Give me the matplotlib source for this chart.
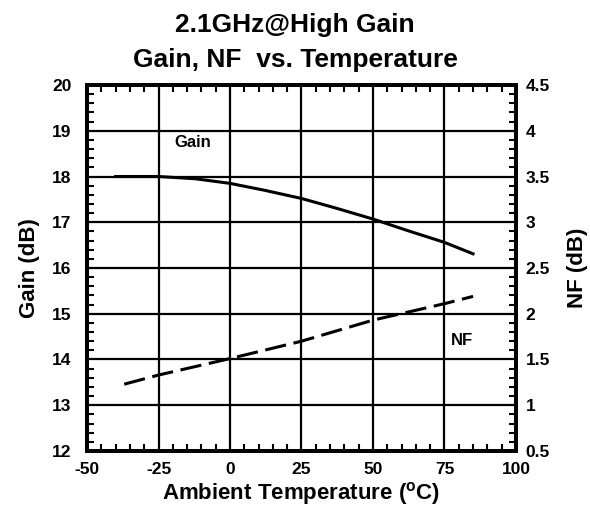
import matplotlib
matplotlib.use("Agg")
import matplotlib.pyplot as plt
from matplotlib.ticker import MultipleLocator

plt.rcParams['font.family'] = ['Liberation Sans', 'DejaVu Sans']
plt.rcParams['font.weight'] = 'bold'
plt.rcParams['axes.unicode_minus'] = False
plt.rcParams['mathtext.fontset'] = 'custom'
plt.rcParams['mathtext.bf'] = 'Liberation Sans:bold'
plt.rcParams['mathtext.rm'] = 'Liberation Sans:bold'

temp_gain = [-40, -25, -12, 0, 12, 25, 37, 50, 62, 75, 85]
gain = [18.0, 18.0, 17.95, 17.85, 17.7, 17.52, 17.31, 17.07, 16.82, 16.56, 16.31]
temp_nf = [-37, -25, 0, 25, 50, 75, 85]
nf = [1.23, 1.33, 1.51, 1.70, 1.93, 2.11, 2.19]

xticks = [-50, -25, 0, 25, 50, 75, 100]
gain_ticks = [12, 13, 14, 15, 16, 17, 18, 19, 20]
nf_ticks = [0.5, 1, 1.5, 2, 2.5, 3, 3.5, 4, 4.5]
nf_ticklabels = ['0.5', '1', '1.5', '2', '2.5', '3', '3.5', '4', '4.5']

fig = plt.figure(figsize=(5.9, 5.14), dpi=100)
ax = fig.add_axes([0.1475, 0.1226, 0.727, 0.712])
ax2 = ax.twinx()

ax.set_xlim(-50, 100)
ax.set_ylim(12, 20)
ax2.set_ylim(0.5, 4.5)
ax.set_xticks(xticks)
ax.set_yticks(gain_ticks)
ax2.set_yticks(nf_ticks)
ax2.set_yticklabels(nf_ticklabels)
ax.xaxis.set_minor_locator(MultipleLocator(5))
ax.yaxis.set_minor_locator(MultipleLocator(0.2))
ax2.yaxis.set_minor_locator(MultipleLocator(0.1))

ax.grid(True, which='major', color='black', linewidth=1.6)
ax.tick_params(axis='x', which='major', length=0, labelsize=12.5, pad=8)
ax.tick_params(axis='y', which='major', length=0, labelsize=12.5, pad=11)
ax.tick_params(axis='x', which='minor', direction='in', length=5, width=1.5, top=True, bottom=True)
ax.tick_params(axis='y', which='minor', direction='in', length=5, width=1.5, left=True, right=False)
ax2.tick_params(axis='y', which='major', length=0, labelsize=12.5, pad=7)
ax2.tick_params(axis='y', which='minor', direction='in', length=5, width=1.5)

for a in (ax, ax2):
    for s in a.spines.values():
        s.set_linewidth(2.8)
    for lab in a.get_xticklabels() + a.get_yticklabels():
        lab.set_fontweight('bold')

ax.plot(temp_gain, gain, color='black', linewidth=2.2)
ax2.plot(temp_nf, nf, color='black', linewidth=2.2, dashes=(7, 2.5))

ax.text(-13, 18.75, 'Gain', fontsize=12, fontweight='bold', ha='center', va='center')
ax2.text(81, 1.71, 'NF', fontsize=12, fontweight='bold', ha='center', va='center')

ax.set_ylabel('Gain (dB)', fontsize=16, fontweight='bold', labelpad=9)
ax2.set_ylabel('NF (dB)', fontsize=16, fontweight='bold', labelpad=12)
ax.set_xlabel(r'Ambient Temperature ($^{\mathbf{o}}$C)', fontsize=16, fontweight='bold', labelpad=2)

fig.text(0.5, 0.951, '2.1GHz@High Gain', ha='center', va='center', fontsize=19, fontweight='bold')
fig.text(0.5, 0.883, 'Gain, NF  vs. Temperature', ha='center', va='center', fontsize=19, fontweight='bold')

fig.savefig('out.png', dpi=100)
